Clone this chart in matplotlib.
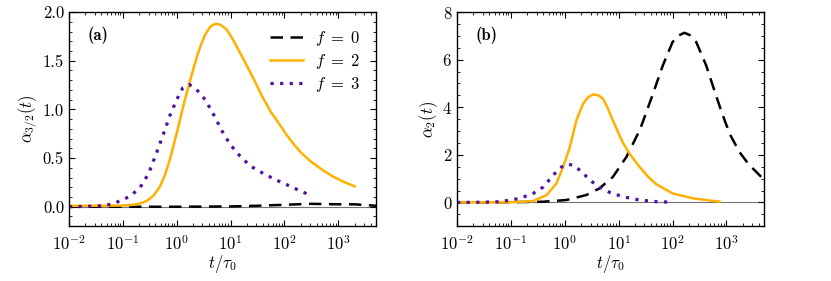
import numpy as np
import matplotlib
matplotlib.use("Agg")
import matplotlib.pyplot as plt
from matplotlib.ticker import MultipleLocator, LogLocator, NullFormatter, FormatStrFormatter

plt.rcParams['font.family'] = 'serif'
plt.rcParams['font.serif'] = ['cmr10']
plt.rcParams['mathtext.fontset'] = 'cm'
plt.rcParams['axes.formatter.use_mathtext'] = True
plt.rcParams['font.size'] = 12

# ---- data: panel (a) alpha_{3/2}(t) ----
a_t_f0 = [0.01, 0.1, 1, 10, 30, 100, 300, 1000, 2000, 5000]
a_y_f0 = [0.0, 0.0, 0.0, 0.003, 0.01, 0.02, 0.03, 0.025, 0.025, 0.01]

a_t_f2 = [0.01, 0.03, 0.1, 0.15, 0.2, 0.28, 0.38, 0.49, 0.6, 0.75, 0.9, 1.07,
          1.25, 1.45, 1.72, 2.0, 2.36, 2.8, 3.37, 4.2, 5.17, 6.5, 8.5, 11, 15,
          20, 27, 38, 55, 80, 112, 150, 200, 300, 500, 800, 1200, 2000]
a_y_f2 = [0.01, 0.01, 0.012, 0.02, 0.03, 0.06, 0.12, 0.21, 0.32, 0.49, 0.66,
          0.82, 0.98, 1.12, 1.27, 1.40, 1.54, 1.66, 1.77, 1.85, 1.88, 1.87,
          1.82, 1.72, 1.58, 1.45, 1.31, 1.14, 0.98, 0.85, 0.73, 0.64, 0.56,
          0.47, 0.38, 0.31, 0.26, 0.21]

a_t_f3 = [0.01, 0.02, 0.035, 0.05, 0.07, 0.095, 0.135, 0.21, 0.30, 0.42, 0.56,
          0.75, 1.0, 1.29, 1.72, 2.29, 3.37, 4.8, 6.9, 9.8, 15, 23, 41, 73,
          129, 183, 325]
a_y_f3 = [0.0, 0.003, 0.008, 0.017, 0.035, 0.07, 0.105, 0.2, 0.34, 0.55, 0.74,
          0.94, 1.10, 1.22, 1.255, 1.21, 1.10, 0.95, 0.78, 0.64, 0.52, 0.42,
          0.34, 0.27, 0.21, 0.17, 0.11]

# ---- data: panel (b) alpha_2(t) ----
b_t_f0 = [0.01, 0.1, 0.4, 1.07, 2.5, 4.4, 7.8, 13.9, 24.5, 28, 43, 66, 100,
          130, 166, 210, 275, 420, 640, 800, 980, 1200, 1740, 2400, 3080, 5000]
b_y_f0 = [0.0, 0.01, 0.03, 0.1, 0.31, 0.59, 1.07, 1.91, 3.03, 3.38, 4.55,
          5.76, 6.74, 7.02, 7.13, 7.03, 6.74, 5.76, 4.50, 3.85, 3.3, 2.8,
          2.12, 1.7, 1.43, 0.95]

b_t_f2 = [0.01, 0.05, 0.1, 0.18, 0.26, 0.46, 0.70, 0.93, 1.24, 1.64, 2.19,
          2.7, 3.35, 4.2, 5.1, 6.3, 7.8, 10, 12, 16, 24.5, 35, 50, 100, 240, 740]
b_y_f2 = [0.0, 0.005, 0.01, 0.03, 0.06, 0.31, 0.80, 1.49, 2.33, 3.45, 4.15,
          4.42, 4.54, 4.50, 4.36, 3.95, 3.45, 2.90, 2.50, 2.04, 1.49, 1.08,
          0.76, 0.38, 0.17, 0.03]

b_t_f3 = [0.01, 0.03, 0.063, 0.146, 0.26, 0.40, 0.61, 0.87, 1.15, 1.53, 2.19,
          3.1, 4.4, 6.8, 12, 24.5, 50, 100]
b_y_f3 = [0.0, 0.01, 0.03, 0.17, 0.38, 0.65, 1.15, 1.49, 1.61, 1.54, 1.22,
          0.89, 0.65, 0.42, 0.24, 0.10, 0.03, 0.01]

labels = [r'$f\;=\;0$', r'$f\;=\;2$', r'$f\;=\;3$']
c_orange = '#FFB000'
c_purple = '#5010A0'

fig = plt.figure(figsize=(8.31, 2.81), dpi=100)
axa = fig.add_axes([0.083, 0.195, 0.3695, 0.762])
axb = fig.add_axes([0.550, 0.195, 0.3695, 0.762])

for ax, t0, y0, t2, y2, t3, y3 in [
        (axa, a_t_f0, a_y_f0, a_t_f2, a_y_f2, a_t_f3, a_y_f3),
        (axb, b_t_f0, b_y_f0, b_t_f2, b_y_f2, b_t_f3, b_y_f3)]:
    ax.axhline(0, color='0.45', lw=0.8, zorder=1)
    ax.plot(t0, y0, color='k', ls=(0, (5, 3)), lw=1.8, label=labels[0])
    ax.plot(t2, y2, color=c_orange, ls='-', lw=1.8, label=labels[1])
    ax.plot(t3, y3, color=c_purple, ls=(0, (1, 2)), lw=2.3, label=labels[2])
    ax.set_xscale('log')
    ax.set_xlim(1e-2, 5e3)
    ax.set_xlabel(r'$t/\tau_0$', labelpad=0)
    ax.xaxis.set_major_locator(LogLocator(base=10, numticks=12))
    ax.xaxis.set_minor_locator(LogLocator(base=10, subs=np.arange(2, 10), numticks=12))
    ax.xaxis.set_minor_formatter(NullFormatter())
    ax.tick_params(which='both', direction='in', top=True, right=True)
    ax.tick_params(which='major', length=4, width=0.8)
    ax.tick_params(which='minor', length=2, width=0.6)
    ax.tick_params(axis='x', which='major', pad=6)
    for s in ax.spines.values():
        s.set_linewidth(1.0)

axa.set_ylim(-0.2, 2.0)
axa.yaxis.set_major_locator(MultipleLocator(0.5))
axa.yaxis.set_minor_locator(MultipleLocator(0.1))
axa.yaxis.set_major_formatter(FormatStrFormatter('%.1f'))
axa.set_ylabel(r'$\alpha_{3/2}(t)$', labelpad=2)
axa.text(0.06, 0.893, '(a)', transform=axa.transAxes, family='cmb10',
         fontsize=12, va='center')
axa.legend(loc='upper right', frameon=False, handlelength=2.0, fontsize=12,
           borderaxespad=0.6, labelspacing=0.25, handletextpad=0.7)

axb.set_ylim(-1, 8)
axb.yaxis.set_major_locator(MultipleLocator(2))
axb.yaxis.set_minor_locator(MultipleLocator(0.5))
axb.set_ylabel(r'$\alpha_2(t)$', labelpad=2)
axb.text(0.06, 0.893, '(b)', transform=axb.transAxes, family='cmb10',
         fontsize=12, va='center')

fig.savefig('out.png', dpi=100)
